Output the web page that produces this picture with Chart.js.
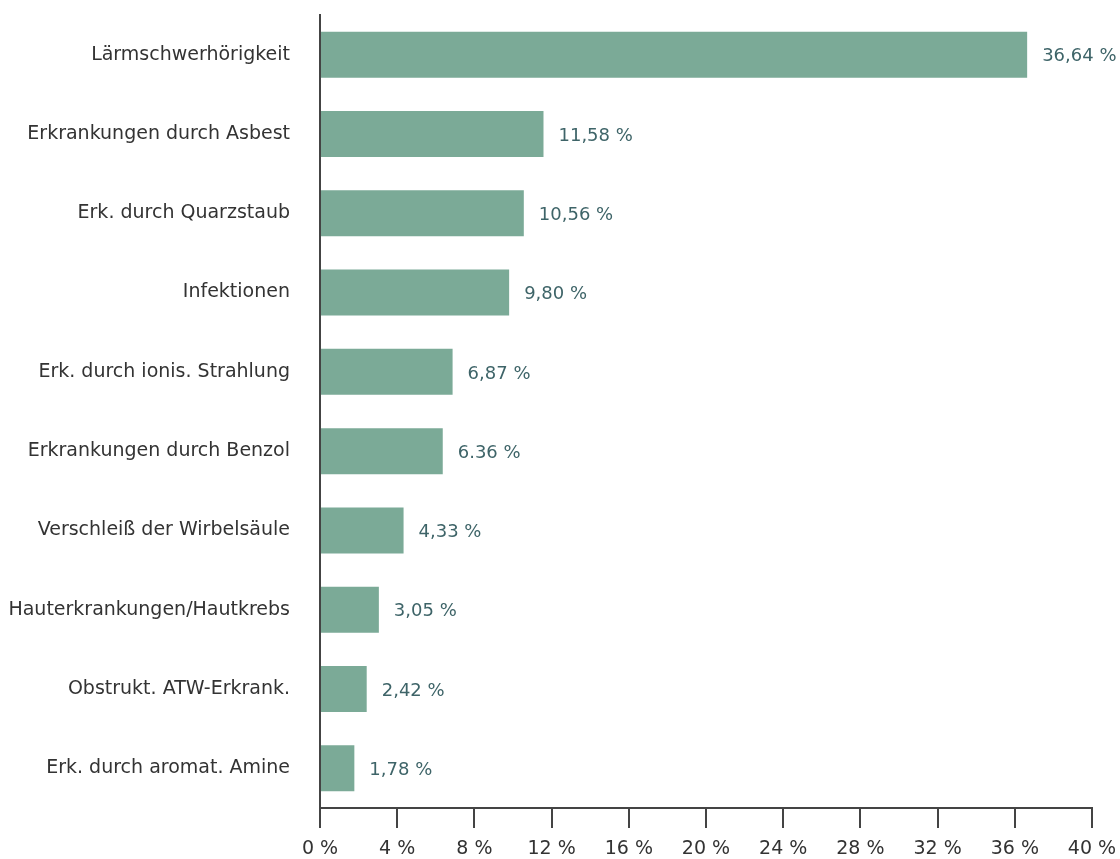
<!DOCTYPE html>
<html>
<head>
<meta charset="utf-8">
<script src="https://cdn.jsdelivr.net/npm/chart.js@4.4.0/dist/chart.umd.min.js"></script>
<style>
  body { margin: 0; background: #fff; }
</style>
</head>
<body>
<canvas id="chart" width="1120" height="859"></canvas>
<script>
const categories = [
  "Lärmschwerhörigkeit",
  "Erkrankungen durch Asbest",
  "Erk. durch Quarzstaub",
  "Infektionen",
  "Erk. durch ionis. Strahlung",
  "Erkrankungen durch Benzol",
  "Verschleiß der Wirbelsäule",
  "Hauterkrankungen/Hautkrebs",
  "Obstrukt. ATW-Erkrank.",
  "Erk. durch aromat. Amine"
]
const shares = [36.64, 11.58, 10.56, 9.80, 6.87, 6.36, 4.33, 3.05, 2.42, 1.78]
const shareLabels = ["36,64 %", "11,58 %", "10,56 %", "9,80 %", "6,87 %", "6.36 %", "4,33 %", "3,05 %", "2,42 %", "1,78 %"]
const xTicks = [0, 4, 8, 12, 16, 20, 24, 28, 32, 36, 40]

const FONT = "'DejaVu Sans', sans-serif"

// value text to the right of each bar
const barValues = {
  id: "barValues",
  afterDatasetsDraw(chart){
    const ctx = chart.ctx
    const meta = chart.getDatasetMeta(0)
    ctx.save()
    ctx.font = "18px " + FONT
    ctx.fillStyle = "#3e6468"
    ctx.textBaseline = "middle"
    ctx.textAlign = "left"
    meta.data.forEach((bar, i) => {
      ctx.fillText(shareLabels[i], bar.x + 15, bar.y + 2)
    })
    ctx.restore()
  }
}

new Chart(document.getElementById("chart"), {
  type: "bar",
  data: {
    labels: categories,
    datasets: [{
      data: shares,
      backgroundColor: "#7baa97",
      borderWidth: 0,
      barPercentage: 0.58,
      categoryPercentage: 1
    }]
  },
  options: {
    indexAxis: "y",
    responsive: false,
    animation: false,
    layout: { padding: { top: 15, right: 28, left: 0, bottom: 0 } },
    plugins: { legend: { display: false }, tooltip: { enabled: false } },
    scales: {
      x: {
        min: 0,
        max: 40,
        afterBuildTicks: scale => { scale.ticks = xTicks.map(v => ({ value: v })) },
        afterFit: scale => {
          scale.height = 51
          scale.paddingLeft = 0
          scale.paddingRight = 0
        },
        border: { display: true, color: "#444", width: 2 },
        grid: { drawOnChartArea: false, drawTicks: true, tickLength: 20, color: "#444", lineWidth: 2 },
        ticks: {
          padding: 10,
          color: "#333",
          font: { family: FONT, size: 19 },
          maxRotation: 0,
          callback: v => v + " %"
        }
      },
      y: {
        afterFit: scale => {
          scale.width = 320
          scale.paddingTop = 0
          scale.paddingBottom = 0
        },
        border: { display: true, color: "#444", width: 2 },
        grid: { display: false, drawTicks: false },
        ticks: {
          padding: 30,
          color: "#333",
          font: { family: FONT, size: 19 }
        }
      }
    }
  },
  plugins: [barValues]
})
</script>
</body>
</html>
